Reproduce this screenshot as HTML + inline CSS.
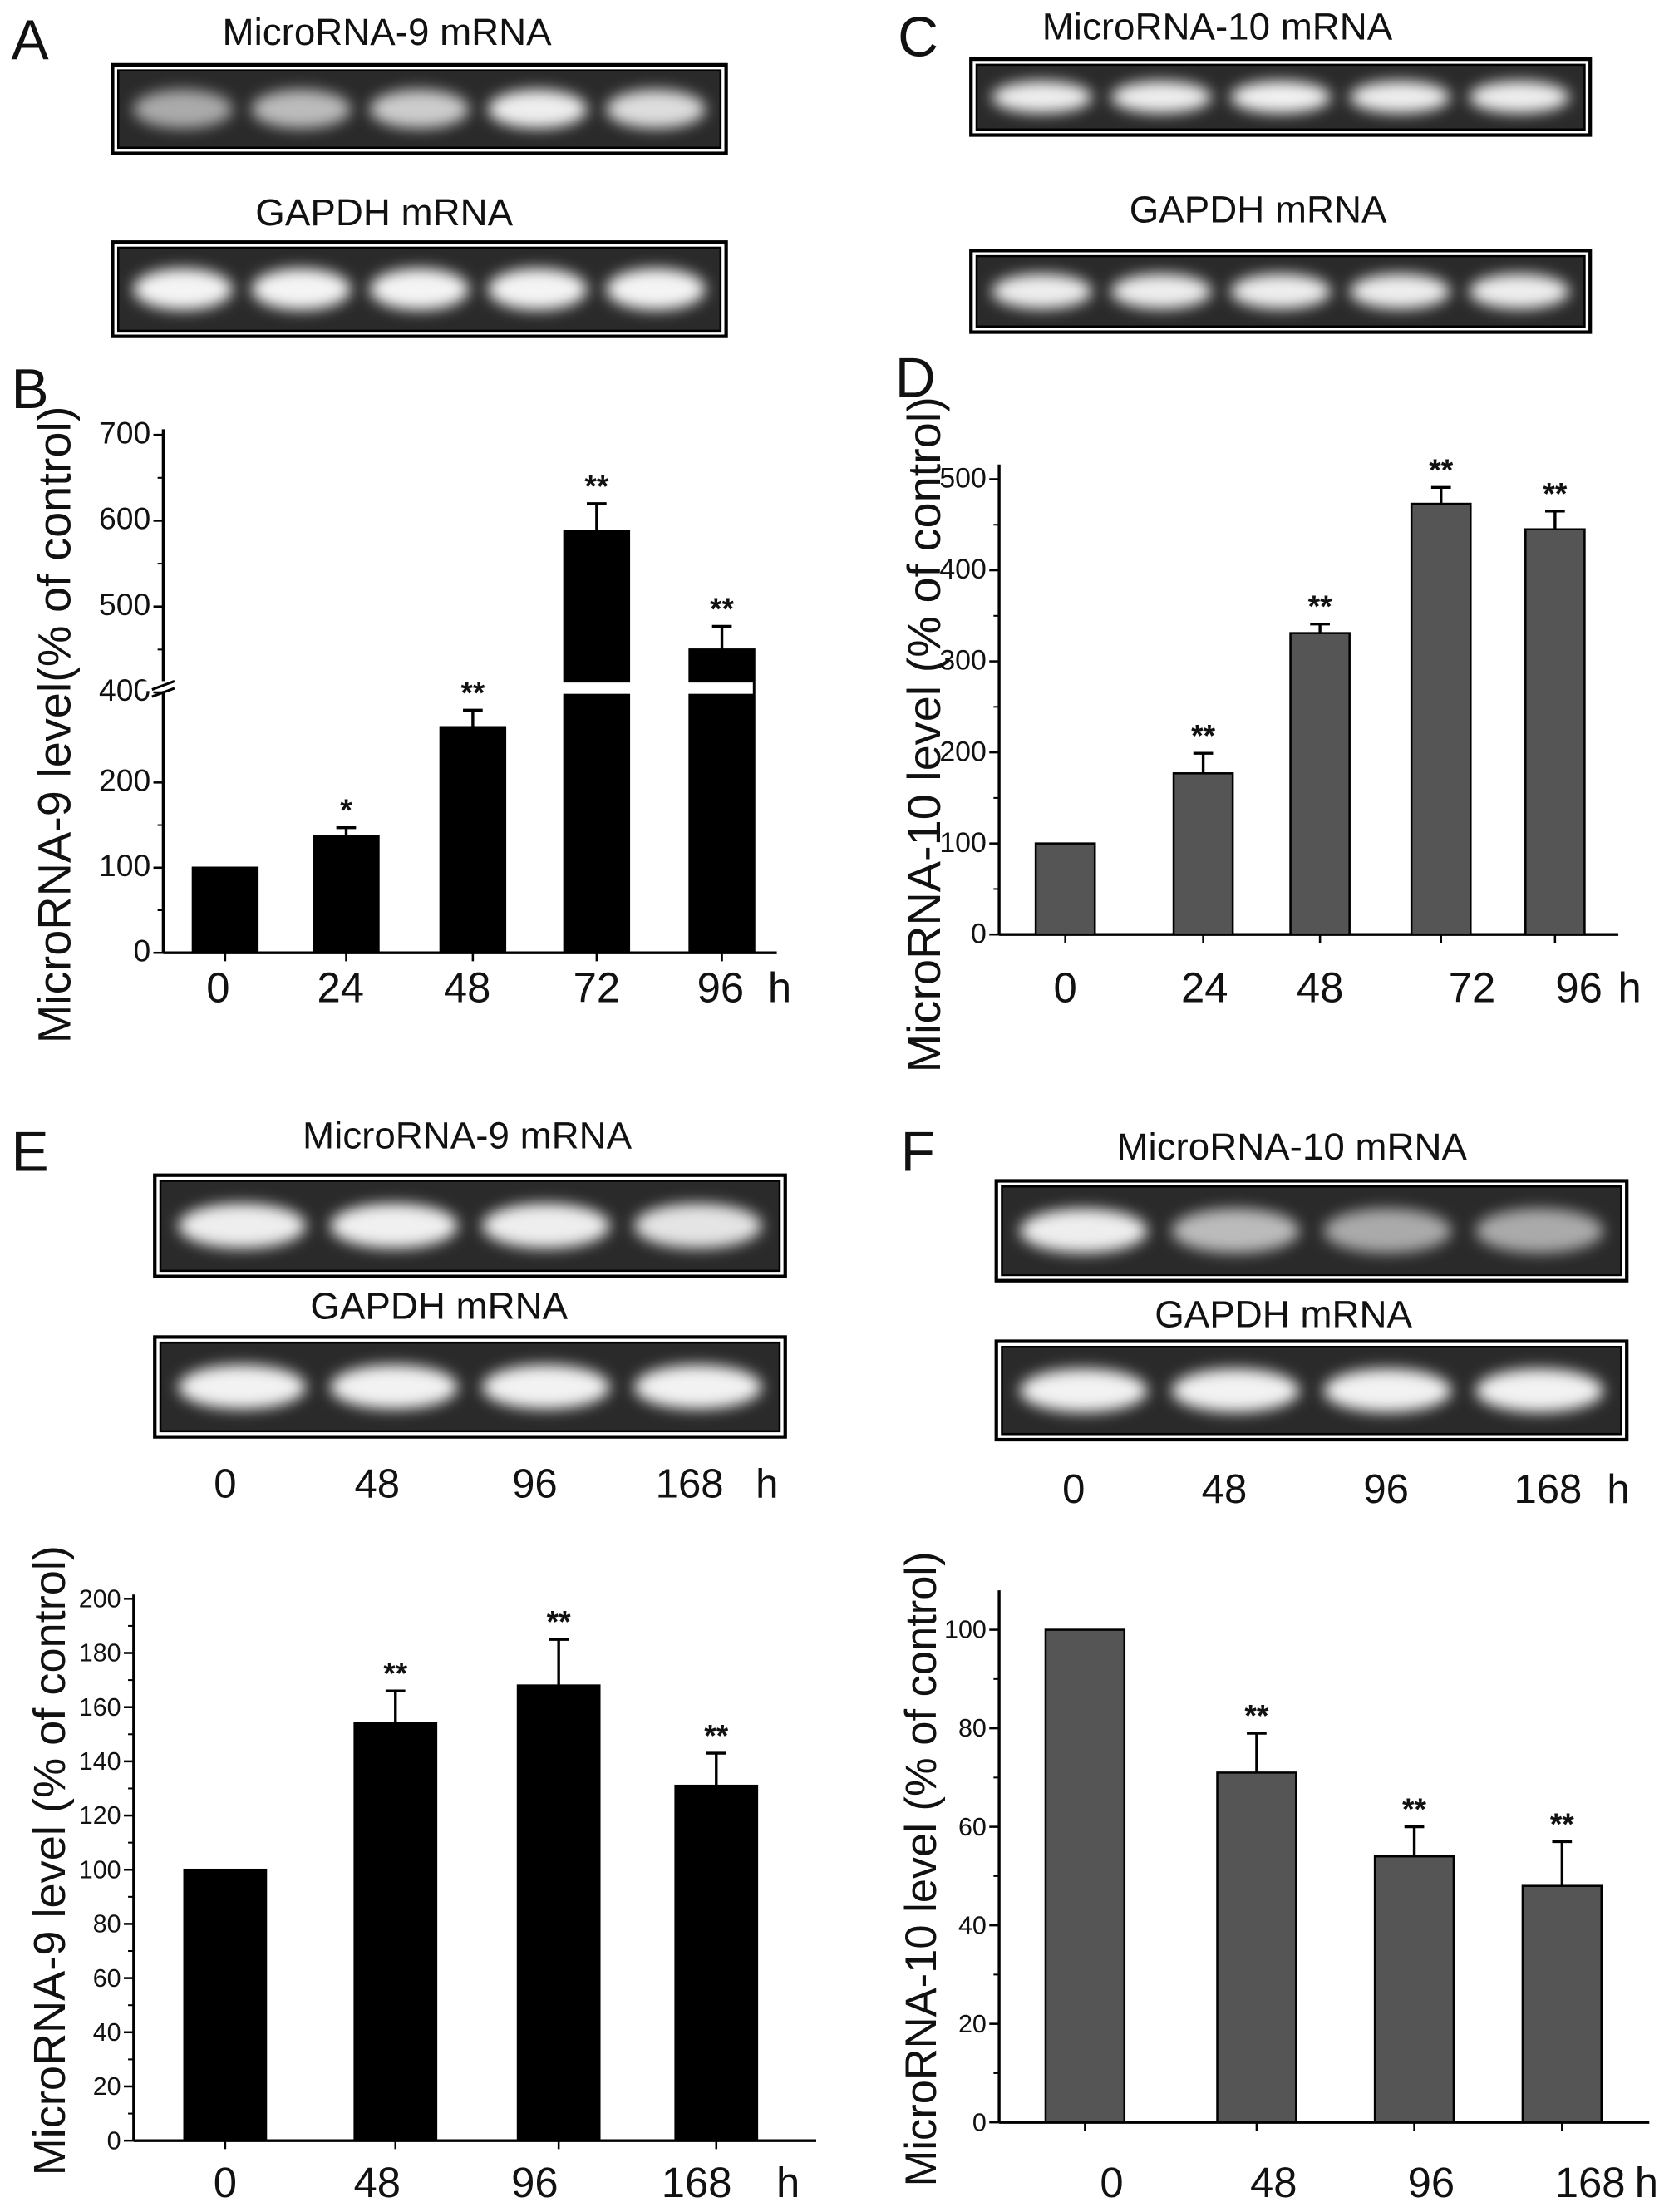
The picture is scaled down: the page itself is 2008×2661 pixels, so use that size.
<!DOCTYPE html>
<html><head><meta charset="utf-8"><style>
html,body{margin:0;padding:0;background:#fff}
svg{display:block}
text{font-family:"Liberation Sans",Arial,sans-serif;fill:#111}
</style></head><body>
<svg id="fig" width="2008" height="2661" viewBox="0 0 1186 1571.7" preserveAspectRatio="none">
<defs>
<filter id="blur" x="-20%" y="-50%" width="140%" height="200%"><feGaussianBlur stdDeviation="5"/></filter>
</defs>
<g id="root"></g>
</svg>
<script>
// ---- data ----
const bCats = ["0","24","48","72","96"];
const bVals = [100,137,265,588,450];
const bErr = [0,10,20,32,27];
const bStars = ["","*","**","**","**"];
const bTicks = [0,100,200,400,500,600,700];

const dCats = ["0","24","48","72","96"];
const dVals = [100,177,331,473,445];
const dErr = [0,22,10,18,20];
const dStars = ["","**","**","**","**"];
const dTicks = [0,100,200,300,400,500];

const eCats = ["0","48","96","168"];
const eVals = [100,154,168,131];
const eErr = [0,12,17,12];
const eStars = ["","**","**","**"];
const eTicks = [0,20,40,60,80,100,120,140,160,180,200];

const fCats = ["0","48","96","168"];
const fVals = [100,71,54,48];
const fErr = [0,8,6,9];
const fStars = ["","**","**","**"];
const fTicks = [0,20,40,60,80,100];

const NS="http://www.w3.org/2000/svg";
const root=document.getElementById('root');
function el(tag,attrs,parent,txt){const e=document.createElementNS(NS,tag);for(const k in attrs)e.setAttribute(k,attrs[k]);if(txt!==undefined)e.textContent=txt;(parent||root).appendChild(e);return e;}

function label(t,x,y,size,name,anchor,extra){
  const e=el('text',Object.assign({x:x,y:y,'font-size':size,'text-anchor':anchor||'middle'},extra||{}),root,t);
  
  
  return e;
}

function gel(x,y,w,h,n,bright,name){
  const g=el('g',{});
  
  
  el('rect',{x:x,y:y,width:w,height:h,fill:'#fff',stroke:'#000','stroke-width':2.5},g);
  el('rect',{x:x+4,y:y+4,width:w-8,height:h-8,fill:'#2a2a2a',stroke:'#000','stroke-width':1.5},g);
  const lw=(w-16)/n;
  for(let i=0;i<n;i++){
    const b=el('ellipse',{cx:x+8+lw*(i+0.5),cy:y+h/2,rx:lw*0.42,ry:(h-8)*0.25,fill:bright[i],filter:'url(#blur)'},g);
    
    
  }
}

function chart(o){
  const g=el('g',{});
  
  
  const ax=el('line',{x1:o.x0,y1:o.yTop,x2:o.x0,y2:o.y0,stroke:'#000','stroke-width':2},g);
  
  
  const xa=el('line',{x1:o.x0,y1:o.y0,x2:o.xEnd,y2:o.y0,stroke:'#000','stroke-width':2},g);
  
  
  o.ticks.forEach((t,i)=>{
    const y=o.sy(t);
    el('line',{x1:o.x0-7,y1:y,x2:o.x0,y2:y,stroke:'#000','stroke-width':1.5},g);
    if(i<o.ticks.length-1){const ym=(y+o.sy(o.ticks[i+1]))/2; if(!o.breakAt||t!==o.breakAt[0]) el('line',{x1:o.x0-4,y1:ym,x2:o.x0,y2:ym,stroke:'#000','stroke-width':1.2},g);}
    const tl=el('text',{x:o.x0-9,y:y+6,'font-size':o.tickSize,'text-anchor':'end'},g,String(t));
    
    
  });
  o.vals.forEach((v,i)=>{
    const cx=o.cx[i], y=o.sy(v);
    const r=el('rect',{x:cx-o.bw/2,y:y,width:o.bw,height:o.y0-y,fill:o.fill,stroke:'#000','stroke-width':1.5},g);
    
    
    if(o.err[i]>0){
      const ye=o.sy(v+o.err[i]);
      el('line',{x1:cx,y1:y,x2:cx,y2:ye,stroke:'#000','stroke-width':2},g);
      el('line',{x1:cx-7,y1:ye,x2:cx+7,y2:ye,stroke:'#000','stroke-width':2},g);
    }
    if(o.stars[i]){
      const s=el('text',{x:cx,y:o.sy(v+o.err[i])-5,'font-size':22,'text-anchor':'middle','font-weight':'bold'},g,o.stars[i]);
      
      
    }
    const xl=el('text',{x:o.lx[i],y:o.ly,'font-size':30,'text-anchor':'middle'},g,o.cats[i]);
    
    
    el('line',{x1:cx,y1:o.y0,x2:cx,y2:o.y0+6,stroke:'#000','stroke-width':1.5},g);
  });
  const h=el('text',{x:o.hx,y:o.ly,'font-size':30,'text-anchor':'middle'},g,'h');
  
  
  const yl=el('text',{x:0,y:0,'font-size':o.ylSize||32,'text-anchor':'middle',transform:`translate(${o.ylx},${o.yly}) rotate(-90)`},g,o.ylabel);
  
  
  return g;
}

// ---- Panel A ----
label('A',8,42,40,'panel-label-a','start');
label('MicroRNA-9 mRNA',275,32,27,'gel-title-microrna9');
gel(80,46,436,63,5,['#aaa','#bbb','#ccc','#eee','#ddd'],'gel-microrna9');
label('GAPDH mRNA',273,160,27,'gel-title-gapdh');
gel(80,172,436,67,5,['#f4f4f4','#f4f4f4','#f4f4f4','#f4f4f4','#f4f4f4'],'gel-gapdh');

// ---- Panel C ----
label('C',638,40,40,'panel-label-c','start');
label('MicroRNA-10 mRNA',865,28,27,'gel-title-microrna10');
gel(690,42,440,54,5,['#eee','#eee','#f2f2f2','#eee','#eee'],'gel-microrna10');
label('GAPDH mRNA',894,158,27,'gel-title-gapdh-c');
gel(690,178,440,58,5,['#eee','#eee','#eee','#eee','#eee'],'gel-gapdh-c');

// ---- Panel B (broken axis) ----
label('B',8,290,40,'panel-label-b','start');
function syB(v){ return v<=350 ? 677-v*0.605 : 492-(v-400)*0.61; }
const gB=chart({name:'chart-b',x0:116,y0:677,yTop:305,xEnd:552,sy:syB,ticks:bTicks,tickSize:22,vals:bVals,err:bErr,stars:bStars,cats:bCats,
  cx:[160,246,336,424,513],bw:46,fill:'#000',lx:[155,242,332,424,512],ly:712,hx:554,ylx:50,yly:515,ylSize:33,ylabel:'MicroRNA-9 level(% of control)',breakAt:[200]});
el('rect',{x:100,y:484,width:30,height:7,fill:'#fff'},gB);
el('line',{x1:108,y1:490,x2:124,y2:484,stroke:'#000','stroke-width':1.8},gB);
el('line',{x1:108,y1:495,x2:124,y2:489,stroke:'#000','stroke-width':1.8},gB);
el('rect',{x:395,y:485,width:140,height:8,fill:'#fff'},gB);

// ---- Panel D ----
label('D',636,282,40,'panel-label-d','start');
chart({name:'chart-d',x0:710,y0:664,yTop:330,xEnd:1150,sy:v=>664-v*0.647,ticks:dTicks,tickSize:20,vals:dVals,err:dErr,stars:dStars,cats:dCats,
  cx:[757,855,938,1024,1105],bw:42,fill:'#555',lx:[757,856,938,1046,1122],ly:712,hx:1158,ylx:668,yly:522,ylSize:33,ylabel:'MicroRNA-10 level (% of control)'});

// ---- Panel E ----
label('E',8,832,40,'panel-label-e','start');
label('MicroRNA-9 mRNA',332,816,27,'gel-title-microrna9-e');
gel(110,835,448,72,4,['#eee','#f0f0f0','#eee','#e4e4e4'],'gel-microrna9-e');
label('GAPDH mRNA',312,937,27,'gel-title-gapdh-e');
gel(110,950,448,71,4,['#f2f2f2','#f2f2f2','#f2f2f2','#f2f2f2'],'gel-gapdh-e');
[['0',160],['48',268],['96',380],['168',490]].forEach(p=>label(p[0],p[1],1064,29,'gel-time-label'));
label('h',545,1064,29,'gel-time-unit');
chart({name:'chart-e',x0:95,y0:1521,yTop:1133,xEnd:580,sy:v=>1521-v*1.925,ticks:eTicks,tickSize:18,vals:eVals,err:eErr,stars:eStars,cats:eCats,
  cx:[160,281,397,509],bw:58,fill:'#000',lx:[160,268,380,495],ly:1561,hx:560,ylx:46,yly:1322,ylSize:32,ylabel:'MicroRNA-9 level (% of control)'});

// ---- Panel F ----
label('F',640,832,40,'panel-label-f','start');
label('MicroRNA-10 mRNA',918,824,27,'gel-title-microrna10-f');
gel(708,839,448,71,4,['#eee','#bbb','#aaa','#aaa'],'gel-microrna10-f');
label('GAPDH mRNA',912,943,27,'gel-title-gapdh-f');
gel(708,953,448,70,4,['#f2f2f2','#f2f2f2','#f2f2f2','#f2f2f2'],'gel-gapdh-f');
[['0',763],['48',870],['96',985],['168',1100]].forEach(p=>label(p[0],p[1],1068,29,'gel-time-label'));
label('h',1150,1068,29,'gel-time-unit');
chart({name:'chart-f',x0:710,y0:1508,yTop:1130,xEnd:1172,sy:v=>1508-v*3.5,ticks:fTicks,tickSize:18,vals:fVals,err:fErr,stars:fStars,cats:fCats,
  cx:[771,893,1005,1110],bw:56,fill:'#555',lx:[790,905,1017,1130],ly:1561,hx:1170,ylx:665,yly:1328,ylSize:31,ylabel:'MicroRNA-10 level (% of control)'});
</script>
</body></html>
